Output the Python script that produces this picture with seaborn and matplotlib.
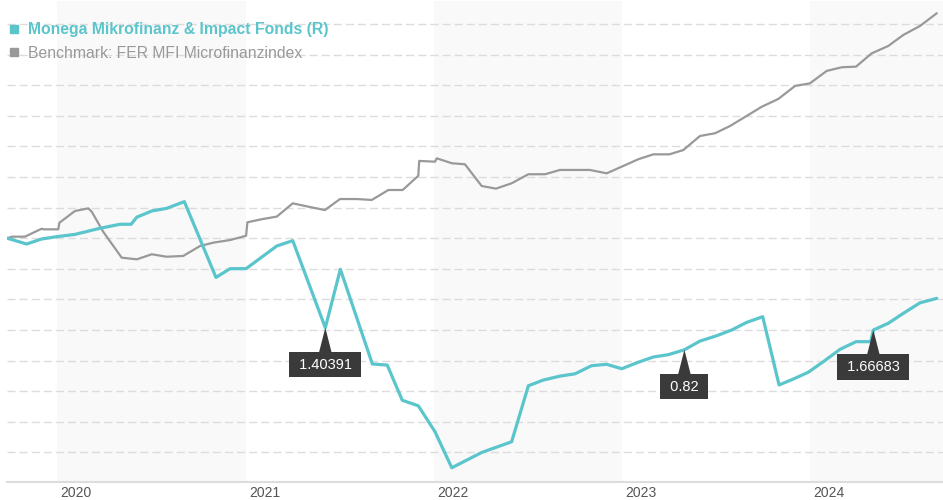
import matplotlib
matplotlib.use("Agg")
import matplotlib.pyplot as plt
import seaborn as sns
import pandas as pd
from matplotlib.lines import Line2D

# ---------------- data ----------------
fund_name = "Monega Mikrofinanz & Impact Fonds (R)"
bench_name = "Benchmark: FER MFI Microfinanzindex"

fund_x = [2019.733, 2019.836, 2019.916, 2019.996, 2020.093, 2020.226, 2020.332, 2020.391,
          2020.421, 2020.501, 2020.580, 2020.674, 2020.842, 2020.917, 2021.002, 2021.165,
          2021.250, 2021.423, 2021.503, 2021.673, 2021.752, 2021.832, 2021.917, 2022.006,
          2022.095, 2022.254, 2022.413, 2022.502, 2022.581, 2022.670, 2022.750, 2022.838,
          2022.918, 2022.998, 2023.078, 2023.166, 2023.246, 2023.331, 2023.414, 2023.503,
          2023.582, 2023.662, 2023.747, 2023.834, 2023.910, 2023.989, 2024.069, 2024.158,
          2024.243, 2024.321, 2024.335, 2024.414, 2024.494, 2024.583, 2024.672]
fund_y = [100.0, 99.62, 99.95, 100.10, 100.25, 100.65, 100.91, 100.91,
          101.37, 101.78, 101.95, 102.39, 97.44, 98.01, 98.01, 99.49,
          99.84, 94.15, 97.97, 91.78, 91.71, 89.41, 89.05, 87.35,
          85.0, 86.0, 86.70, 90.36, 90.73, 90.99, 91.14, 91.67,
          91.76, 91.47, 91.86, 92.24, 92.39, 92.71, 93.28, 93.63,
          94.0, 94.50, 94.87, 90.41, 90.80, 91.24, 91.93, 92.74,
          93.24, 93.24, 94.0, 94.44, 95.09, 95.78, 96.07]

bench_x = [2019.733, 2019.757, 2019.827, 2019.871, 2019.916, 2019.925, 2020.004, 2020.010,
           2020.049, 2020.093, 2020.164, 2020.182, 2020.243, 2020.341, 2020.421, 2020.501,
           2020.580, 2020.668, 2020.757, 2020.828, 2020.917, 2021.002, 2021.009, 2021.085,
           2021.165, 2021.250, 2021.333, 2021.421, 2021.501, 2021.590, 2021.670, 2021.758,
           2021.834, 2021.917, 2021.922, 2022.006, 2022.015, 2022.095, 2022.165, 2022.254,
           2022.330, 2022.413, 2022.502, 2022.590, 2022.670, 2022.829, 2022.918, 2023.006,
           2023.086, 2023.166, 2023.251, 2023.325, 2023.414, 2023.494, 2023.573, 2023.662,
           2023.742, 2023.830, 2023.919, 2023.998, 2024.087, 2024.167, 2024.243, 2024.326,
           2024.414, 2024.494, 2024.583, 2024.672]
bench_y = [100.0, 100.10, 100.10, 100.36, 100.62, 100.58, 100.58, 101.01,
           101.37, 101.78, 101.95, 101.73, 100.42, 98.73, 98.62, 98.95,
           98.79, 98.84, 99.49, 99.71, 99.88, 100.16, 101.04, 101.24,
           101.41, 102.28, 102.06, 101.84, 102.56, 102.56, 102.50, 103.15,
           103.15, 104.08, 105.05, 105.00, 105.22, 104.90, 104.83, 103.41,
           103.24, 103.59, 104.18, 104.18, 104.46, 104.46, 104.24, 104.72,
           105.16, 105.48, 105.48, 105.76, 106.68, 106.86, 107.33, 107.99,
           108.59, 109.10, 109.95, 110.12, 110.93, 111.17, 111.21, 112.08,
           112.56, 113.28, 113.87, 114.70]

# distributions (annotations) on the fund line
annot_idx = [17, 37, 50]
annot_text = ["1.40391", "0.82", "1.66683"]

years = [2020, 2021, 2022, 2023, 2024]
shaded_years = [2020, 2022, 2024]
grid_values = list(range(86, 115, 2))

# ---------------- style ----------------
TEAL = "#5bc5cc"
GREY = "#999999"

sns.set_theme(style="white")
plt.rcParams["font.family"] = ["Liberation Sans", "DejaVu Sans"]

fig = plt.figure(figsize=(9.43, 5.0), dpi=100)
ax = fig.add_axes([7 / 943, 18 / 500, 936 / 943, 481 / 500])

ax.set_xlim(2019.7317, 2024.705)
ax.set_ylim(84.07, 115.5)

for yr in shaded_years:
    ax.axvspan(yr, yr + 1, color="#f9f9f9", zorder=0, lw=0)

for g in grid_values:
    ax.axhline(g, color="#dcdcdc", lw=1.0, dashes=(5.8, 2.9), zorder=1)

df_b = pd.DataFrame({"x": bench_x, "y": bench_y})
df_f = pd.DataFrame({"x": fund_x, "y": fund_y})
sns.lineplot(data=df_b, x="x", y="y", ax=ax, color=GREY, lw=1.6,
             estimator=None, sort=False, zorder=3)
sns.lineplot(data=df_f, x="x", y="y", ax=ax, color=TEAL, lw=2.3,
             estimator=None, sort=False, zorder=4)

for i, t in zip(annot_idx, annot_text):
    ax.annotate(" " + t + " ", xy=(fund_x[i], fund_y[i]), xytext=(0, -37),
                textcoords="offset pixels", ha="center", va="center",
                color="white", fontsize=10.5, zorder=6,
                bbox=dict(boxstyle="square,pad=0.38", fc="#3a3a3a", ec="none"),
                arrowprops=dict(arrowstyle="wedge,tail_width=0.9,shrink_factor=0.5",
                                fc="#3a3a3a", ec="none", shrinkA=0, shrinkB=0,
                                mutation_scale=10))

# axes decoration
for s in ["top", "right", "left"]:
    ax.spines[s].set_visible(False)
ax.spines["bottom"].set_color("#dddddd")
ax.spines["bottom"].set_linewidth(1.5)
ax.set_yticks([])
ax.set_xticks([y + 0.1 for y in years])
ax.set_xticklabels([str(y) for y in years], color="#555555", fontsize=10)
ax.tick_params(axis="x", length=0, pad=3)
ax.set_xlabel("")
ax.set_ylabel("")

handles = [Line2D([], [], marker="s", ls="none", color=TEAL, markersize=5.2),
           Line2D([], [], marker="s", ls="none", color=GREY, markersize=5.2)]
leg = ax.legend(handles, [fund_name, bench_name], loc="upper left",
                bbox_to_anchor=(0.0025, 0.956), frameon=False, fontsize=11.3,
                handlelength=0.6, handletextpad=0.6, labelspacing=0.55,
                borderaxespad=0.0, borderpad=0.0)
leg.get_texts()[0].set_color(TEAL)
leg.get_texts()[0].set_fontweight("bold")
leg.get_texts()[1].set_color(GREY)

fig.savefig("out.png", dpi=100)
